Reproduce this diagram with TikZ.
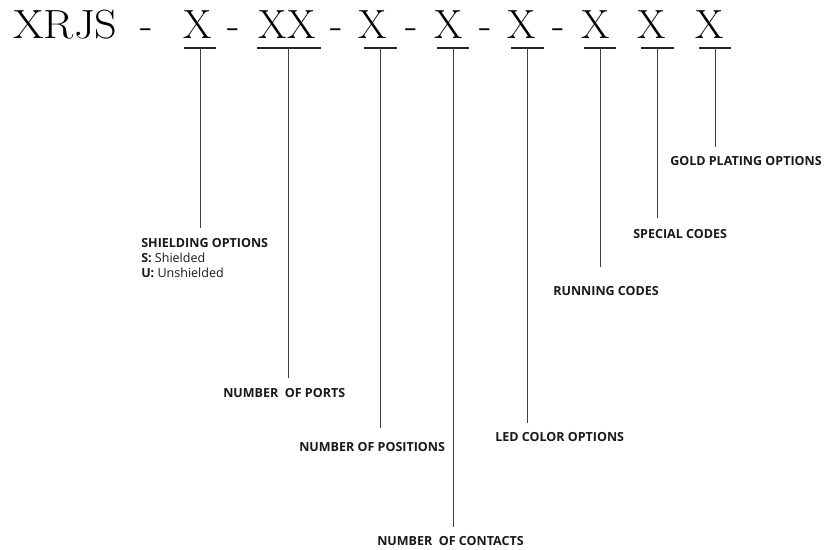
\documentclass[tikz,border=0pt]{standalone}
\usepackage{fontspec}
\newfontfamily\partfont{Open Sans}

\begin{document}
\begin{tikzpicture}[x=0.025cm,y=-0.025cm,
		code/.style={font=\fontsize{29}{29}\selectfont, inner sep=0pt, anchor=base},
		bar/.style={line width=1.4pt, black!85},
		stem/.style={line width=0.6pt, black!75},
		part/.style={font=\partfont\fontsize{8.9}{10.6}\selectfont\bfseries, inner sep=0pt, anchor=north west, text=black!90, align=left}]
		\useasboundingbox (0,0) rectangle (827,549);

		% part number
		\node (prefix) at (13,38) [code, anchor=base west] {\scalebox{1.085}[1]{XRJS}};
		\node (d_0) at (147,38) [code] {-};
		\node (x_shield) at (198,38) [code] {X};
		\node (d_1) at (234,38) [code] {-};
		\node (x_ports) at (287,38) [code] {XX};
		\node (d_2) at (337,38) [code] {-};
		\node (x_pos) at (373,38) [code] {X};
		\node (d_3) at (412,38) [code] {-};
		\node (x_contacts) at (449,38) [code] {X};
		\node (d_4) at (486,38) [code] {-};
		\node (x_led) at (522,38) [code] {X};
		\node (d_5) at (559,38) [code] {-};
		\node (x_running) at (596,38) [code] {X};
		\node (x_special) at (652,38) [code] {X};
		\node (x_gold) at (710,38) [code] {X};

		% underlines
		\draw[bar] (184,48) -- (216,48);
		\draw[bar] (257,48) -- (321,48);
		\draw[bar] (364,48) -- (397,48);
		\draw[bar] (437,48) -- (469,48);
		\draw[bar] (511,48) -- (544,48);
		\draw[bar] (584,48) -- (616,48);
		\draw[bar] (641,48) -- (674,48);
		\draw[bar] (699,48) -- (731,48);
		\coordinate (c_shield) at (200,48);
		\coordinate (c_ports) at (288,48);
		\coordinate (c_pos) at (380,48);
		\coordinate (c_contacts) at (453,48);
		\coordinate (c_led) at (527,48);
		\coordinate (c_running) at (600,48);
		\coordinate (c_special) at (657,48);
		\coordinate (c_gold) at (715,48);

		% descriptions
		\node (shield) at (141,238) [part] {SHIELDING OPTIONS\\S: {\mdseries Shielded}\\U: {\mdseries Unshielded}};
		\node (ports) at (223,388) [part] {NUMBER\ \ OF PORTS};
		\node (pos) at (299,442) [part] {NUMBER OF POSITIONS};
		\node (contacts) at (377,536) [part] {NUMBER\ \ OF CONTACTS};
		\node (led) at (495,432) [part] {LED COLOR OPTIONS};
		\node (running) at (553,286) [part] {RUNNING CODES};
		\node (special) at (633,229) [part] {SPECIAL CODES};
		\node (gold) at (670,156) [part] {GOLD PLATING OPTIONS};

		\draw[stem, shorten >=7.1pt] (c_shield) -- (c_shield |- shield.north);
		\draw[stem, shorten >=7.1pt] (c_ports) -- (c_ports |- ports.north);
		\draw[stem, shorten >=9.9pt] (c_pos) -- (c_pos |- pos.north);
		\draw[stem, shorten >=6.4pt] (c_contacts) -- (c_contacts |- contacts.north);
		\draw[stem, shorten >=6.4pt] (c_led) -- (c_led |- led.north);
		\draw[stem, shorten >=13.5pt] (c_running) -- (c_running |- running.north);
		\draw[stem, shorten >=7.8pt] (c_special) -- (c_special |- special.north);
		\draw[stem, shorten >=6.4pt] (c_gold) -- (c_gold |- gold.north);
	\end{tikzpicture}
\end{document}
